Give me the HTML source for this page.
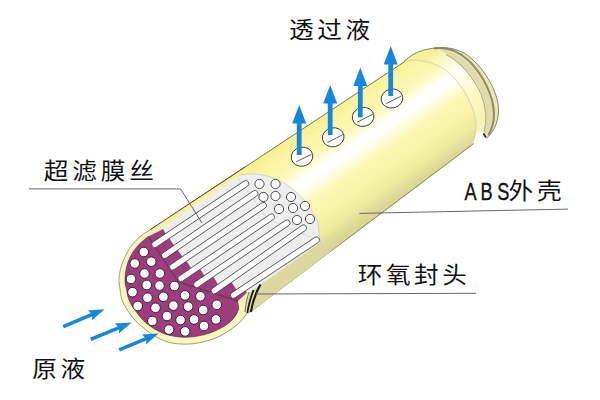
<!DOCTYPE html>
<html lang="zh"><head><meta charset="utf-8"><title>超滤膜组件结构</title>
<style>html,body{margin:0;padding:0;background:#fff}svg{display:block}text{font-family:"Liberation Sans","Noto Sans CJK SC",sans-serif}</style>
</head><body>
<svg width="600" height="400" viewBox="0 0 600 400">
<rect width="600" height="400" fill="#fff"/>
<defs>
<linearGradient id="body" gradientUnits="userSpaceOnUse" x1="300" y1="130.7" x2="366.5" y2="225">
 <stop offset="0" stop-color="#f8f090"/>
 <stop offset="0.10" stop-color="#faf4a4"/>
 <stop offset="0.24" stop-color="#fcf8b6"/>
 <stop offset="0.32" stop-color="#fffde4"/>
 <stop offset="0.36" stop-color="#ffffff"/>
 <stop offset="0.41" stop-color="#ffffff"/>
 <stop offset="0.47" stop-color="#fffde2"/>
 <stop offset="0.56" stop-color="#fcf8b4"/>
 <stop offset="0.72" stop-color="#f8f3a6"/>
 <stop offset="0.84" stop-color="#eeea9e"/>
 <stop offset="0.91" stop-color="#e2de9a"/>
 <stop offset="1" stop-color="#d6d28e"/>
</linearGradient>
<linearGradient id="cap" gradientUnits="userSpaceOnUse" x1="300" y1="130.7" x2="366.5" y2="225">
 <stop offset="0" stop-color="#f3ec8c"/>
 <stop offset="0.12" stop-color="#f7f1a0"/>
 <stop offset="0.28" stop-color="#fefcdc"/>
 <stop offset="0.38" stop-color="#fffef6"/>
 <stop offset="0.6" stop-color="#fcf9c4"/>
 <stop offset="0.85" stop-color="#f6f2b4"/>
 <stop offset="1" stop-color="#ffffff"/>
</linearGradient>
<linearGradient id="wall" gradientUnits="userSpaceOnUse" x1="250" y1="300" x2="345" y2="232">
 <stop offset="0" stop-color="#dcd8a0" stop-opacity="1"/>
 <stop offset="0.7" stop-color="#dcd8a0" stop-opacity="0.9"/>
 <stop offset="1" stop-color="#dcd8a0" stop-opacity="0"/>
</linearGradient>
</defs>
<path d="M404,61.5 C409,56.5 416,52 424,50 C438,46.5 452,46.5 464,53 C482,64 499.5,92 498.5,112 C497.5,125 492.5,133.5 486.5,138 L471,146.2 Z" fill="url(#cap)"/>
<path d="M471.3,146.2 L486.5,138 L485,131 L476,134 Z" fill="#ffffff" opacity="0.92"/>
<path d="M436,47.5 C446,46 456,49 464,53 C482,64 499.5,92 498.5,112 C497.5,125 492.5,133.5 486.5,138 L483,134 C487,124 487,108 482,94 C476,78 462,62 447,54 Z" fill="#ebe8b6"/>
<path d="M440,49.5 C452,50 462,57 470,65 C484,80 493,100 493,114 C493,123 491,129 488,134 L483,134 C487,124 487,108 482,94 C476,78 462,62 447,54 Z" fill="#dfdcaa"/>
<path d="M434,48.5 C447,46.5 458,51 468,60 C483,74 494,97 494,114 C494,123 491.5,130 488.5,135" fill="none" stroke="#8f8d68" stroke-width="2.1"/>
<path d="M446,54.5 C460,61 474,78 481,94 C486,107 487,121 484,132" fill="none" stroke="#b3b088" stroke-width="1.1"/>
<path d="M404,61.5 C409,56.5 416,52 424,50 C438,46.5 452,46.5 464,53 C482,64 499.5,92 498.5,112 C497.5,125 492.5,133.5 486.5,138" fill="none" stroke="#7d7b5a" stroke-width="0.9"/>
<path d="M486,137.5 L483.5,133.5" stroke="#222" stroke-width="1.6"/>
<path d="M150,229.8 L406,60.8 C418,58.5 436,62 448,72 C464,86 476,110 476,126 C476,134 474,140 471,146.2 L249,313.0 Z" fill="url(#body)"/>
<path d="M406,60.8 C418,58.5 436,62 448,72 C464,86 476,110 476,126 C476,134 474,140 471,146.2" fill="none" stroke="#d6d3a6" stroke-width="0.9"/>
<path d="M150,229.8 L405,61.4" stroke="#55533a" stroke-width="0.8"/>
<path d="M250,312.2 L474,143.3" stroke="#77754c" stroke-width="0.8"/>
<g transform="translate(302,156.7)"><ellipse rx="10.9" ry="9.5" transform="rotate(-12)" fill="#fff" stroke="#3a3a3a" stroke-width="0.9"/><path d="M-5.8,5.2 L9.6,-2.6" stroke="#3a3a3a" stroke-width="0.8"/></g>
<g transform="translate(333.2,137.3)"><ellipse rx="10.9" ry="9.5" transform="rotate(-12)" fill="#fff" stroke="#3a3a3a" stroke-width="0.9"/><path d="M-5.8,5.2 L9.6,-2.6" stroke="#3a3a3a" stroke-width="0.8"/></g>
<g transform="translate(363.1,116.9)"><ellipse rx="10.9" ry="9.5" transform="rotate(-12)" fill="#fff" stroke="#3a3a3a" stroke-width="0.9"/><path d="M-5.8,5.2 L9.6,-2.6" stroke="#3a3a3a" stroke-width="0.8"/></g>
<g transform="translate(392,98.5)"><ellipse rx="10.9" ry="9.5" transform="rotate(-12)" fill="#fff" stroke="#3a3a3a" stroke-width="0.9"/><path d="M-5.8,5.2 L9.6,-2.6" stroke="#3a3a3a" stroke-width="0.8"/></g>
<path d="M299.2,105 L306.2,123.5 L301.59999999999997,123.5 L301.59999999999997,155 L296.8,155 L296.8,123.5 L292.2,123.5 Z" fill="#1488dc"/>
<path d="M330.2,85 L337.2,103.5 L332.59999999999997,103.5 L332.59999999999997,135 L327.8,135 L327.8,103.5 L323.2,103.5 Z" fill="#1488dc"/>
<path d="M360.3,67.5 L367.3,86.0 L362.7,86.0 L362.7,117.3 L357.90000000000003,117.3 L357.90000000000003,86.0 L353.3,86.0 Z" fill="#1488dc"/>
<path d="M390.7,46 L397.7,64.5 L393.09999999999997,64.5 L393.09999999999997,96 L388.3,96 L388.3,64.5 L383.7,64.5 Z" fill="#1488dc"/>
<path d="M171.5,220 C169.5,221.0 163.2,224.2 159.5,226.0 C155.8,227.8 152.5,228.5 149.0,230.5 C145.5,232.5 141.8,235.0 138.5,238.0 C135.2,241.0 132.1,244.5 129.5,248.5 C126.9,252.5 124.4,258.0 122.8,262.0 C121.1,266.0 120.4,269.5 119.8,272.5 C119.1,275.5 119.0,277.6 119.0,280.0 C119.0,282.4 119.2,283.7 119.8,287.0 C120.2,290.3 120.6,296.0 122.0,300.0 C123.4,304.0 125.9,307.7 128.0,311.0 C130.1,314.3 132.8,317.7 134.8,320.0 C136.8,322.3 137.5,322.8 140.0,325.0 C142.5,327.2 146.7,330.7 150.0,333.0 C153.3,335.3 156.7,337.4 160.0,339.0 C163.3,340.6 166.7,341.8 170.0,342.6 C173.3,343.4 176.7,343.8 180.0,344.0 C183.3,344.2 186.7,344.2 190.0,344.0 C193.3,343.8 196.7,343.3 200.0,342.6 C203.3,341.9 206.7,341.1 210.0,340.0 C213.3,338.9 216.7,337.7 220.0,336.0 C223.3,334.3 226.7,332.3 230.0,330.0 C233.3,327.7 237.2,324.8 240.0,322.0 C242.8,319.2 245.3,315.8 247.0,313.0 C248.7,310.2 249.5,306.3 250.0,305.0 L250,297 L238,301 L178.5,282 L160,240 Z" fill="#f9f6be"/>
<path d="M171.5,220 C169.5,221.0 163.2,224.2 159.5,226.0 C155.8,227.8 152.5,228.5 149.0,230.5 C145.5,232.5 141.8,235.0 138.5,238.0 C135.2,241.0 132.1,244.5 129.5,248.5 C126.9,252.5 124.4,258.0 122.8,262.0 C121.1,266.0 120.4,269.5 119.8,272.5 C119.1,275.5 119.0,277.6 119.0,280.0 C119.0,282.4 119.2,283.7 119.8,287.0 C120.2,290.3 120.6,296.0 122.0,300.0 C123.4,304.0 125.9,307.7 128.0,311.0 C130.1,314.3 132.8,317.7 134.8,320.0 C136.8,322.3 137.5,322.8 140.0,325.0 C142.5,327.2 146.7,330.7 150.0,333.0 C153.3,335.3 156.7,337.4 160.0,339.0 C163.3,340.6 166.7,341.8 170.0,342.6 C173.3,343.4 176.7,343.8 180.0,344.0 C183.3,344.2 186.7,344.2 190.0,344.0 C193.3,343.8 196.7,343.3 200.0,342.6 C203.3,341.9 206.7,341.1 210.0,340.0 C213.3,338.9 216.7,337.7 220.0,336.0 C223.3,334.3 226.7,332.3 230.0,330.0 C233.3,327.7 237.2,324.8 240.0,322.0 C242.8,319.2 245.3,315.8 247.0,313.0 C248.7,310.2 249.5,306.3 250.0,305.0" fill="none" stroke="#77754f" stroke-width="0.7"/>
<path d="M148.25,236.5 C146.6,237.9 141.2,242.0 138.3,245.2 C135.4,248.4 132.9,251.9 131.0,255.5 C129.1,259.1 127.6,262.9 126.6,267.0 C125.6,271.1 125.1,276.5 125.0,280.0 C124.9,283.5 125.5,284.7 126.2,288.0 C126.9,291.3 127.6,296.4 129.0,300.0 C130.4,303.6 132.4,306.4 134.6,309.6 C136.8,312.8 139.4,316.3 142.0,319.0 C144.6,321.7 147.0,323.8 150.0,326.0 C153.0,328.2 156.7,330.4 160.0,332.0 C163.3,333.6 166.7,334.6 170.0,335.4 C173.3,336.2 176.7,336.7 180.0,337.0 C183.3,337.3 186.7,337.2 190.0,337.0 C193.3,336.8 196.7,336.3 200.0,335.6 C203.3,334.9 206.7,334.2 210.0,333.0 C213.3,331.8 216.7,330.4 220.0,328.6 C223.3,326.8 227.3,324.3 230.0,322.0 C232.7,319.7 234.5,317.5 236.0,315.0 C237.5,312.5 238.7,309.3 239.0,307.0 C239.3,304.7 238.2,302.0 238.0,301.0 L178.5,282 Z" fill="#9e3c7d" stroke="#4a2040" stroke-width="0.6"/>
<circle cx="143.75" cy="252" r="4.8" fill="#fff" stroke="#2a1426" stroke-width="0.9"/>
<circle cx="134.75" cy="263.5" r="4.8" fill="#fff" stroke="#2a1426" stroke-width="0.9"/>
<circle cx="151.25" cy="261.7" r="4.8" fill="#fff" stroke="#2a1426" stroke-width="0.9"/>
<circle cx="144.5" cy="273.5" r="4.8" fill="#fff" stroke="#2a1426" stroke-width="0.9"/>
<circle cx="159.8" cy="273.5" r="4.8" fill="#fff" stroke="#2a1426" stroke-width="0.9"/>
<circle cx="131" cy="279" r="4.8" fill="#fff" stroke="#2a1426" stroke-width="0.9"/>
<circle cx="146.75" cy="285" r="4.8" fill="#fff" stroke="#2a1426" stroke-width="0.9"/>
<circle cx="159.5" cy="285.6" r="4.8" fill="#fff" stroke="#2a1426" stroke-width="0.9"/>
<circle cx="174.5" cy="286" r="4.8" fill="#fff" stroke="#2a1426" stroke-width="0.9"/>
<circle cx="132.5" cy="292.2" r="4.8" fill="#fff" stroke="#2a1426" stroke-width="0.9"/>
<circle cx="147.5" cy="297.75" r="4.8" fill="#fff" stroke="#2a1426" stroke-width="0.9"/>
<circle cx="163.4" cy="296.8" r="4.8" fill="#fff" stroke="#2a1426" stroke-width="0.9"/>
<circle cx="185" cy="295.4" r="4.8" fill="#fff" stroke="#2a1426" stroke-width="0.9"/>
<circle cx="200.4" cy="296.3" r="4.8" fill="#fff" stroke="#2a1426" stroke-width="0.9"/>
<circle cx="137.75" cy="306" r="4.8" fill="#fff" stroke="#2a1426" stroke-width="0.9"/>
<circle cx="155.5" cy="307.8" r="4.8" fill="#fff" stroke="#2a1426" stroke-width="0.9"/>
<circle cx="173.4" cy="305.6" r="4.8" fill="#fff" stroke="#2a1426" stroke-width="0.9"/>
<circle cx="188.2" cy="306.6" r="4.8" fill="#fff" stroke="#2a1426" stroke-width="0.9"/>
<circle cx="167" cy="316" r="4.8" fill="#fff" stroke="#2a1426" stroke-width="0.9"/>
<circle cx="152.3" cy="321" r="4.8" fill="#fff" stroke="#2a1426" stroke-width="0.9"/>
<circle cx="180.5" cy="320" r="4.8" fill="#fff" stroke="#2a1426" stroke-width="0.9"/>
<circle cx="194.1" cy="319.5" r="4.8" fill="#fff" stroke="#2a1426" stroke-width="0.9"/>
<circle cx="169" cy="329.6" r="4.8" fill="#fff" stroke="#2a1426" stroke-width="0.9"/>
<circle cx="185.1" cy="331.4" r="4.8" fill="#fff" stroke="#2a1426" stroke-width="0.9"/>
<circle cx="216.75" cy="304.75" r="4.8" fill="#fff" stroke="#2a1426" stroke-width="0.9"/>
<circle cx="203.2" cy="310" r="4.8" fill="#fff" stroke="#2a1426" stroke-width="0.9"/>
<circle cx="216" cy="319.4" r="4.8" fill="#fff" stroke="#2a1426" stroke-width="0.9"/>
<circle cx="204" cy="326" r="4.8" fill="#fff" stroke="#2a1426" stroke-width="0.9"/>
<path d="M148.2,236.5 L160,222 L237,176 C262,168 300,182 318,222 L320,243 L256,288 L252,298 L238,301 L178.5,282 Z" fill="#eeeeee"/>
<path d="M237,176 C262,168 300,182 318,222 L320,243" fill="none" stroke="#c4c4c4" stroke-width="0.7"/>
<path d="M238,178 L268,219 L320,241" fill="none" stroke="#cccccc" stroke-width="0.6"/>
<path d="M256,288 L320,243 L330,251.9 L249,313.0 L244,314 L238,301 Z" fill="url(#body)"/>
<path d="M256,288 L320,243 L345,226 L345,240.6 L249,313.0 L244,314 L238,301 Z" fill="url(#wall)"/>
<path d="M148.2,236.5 L163.2,229.0 L167.8,237.9 L168.9,237.4 L176.5,249.2 L177.5,249.4 L185.1,261.2 L186.2,260.6 L193.8,272.4 L200.2,269.1 L207.8,280.9 L212.7,276.1 L220.3,287.9 L231.2,281.6 L238.8,293.4 L242.9,286.6 L248.0,294.6 L238.0,301.0 L178.5,282.0 Z" fill="#9e3c7d"/>
<path d="M148.2,236.5 L178.5,282 L238,301" fill="none" stroke="#3a2035" stroke-width="0.7"/>
<rect x="-3.05" y="-3.05" width="115.6" height="6.1" rx="3.05" transform="translate(154.8,244.5) rotate(-33.79)" fill="#fff" stroke="#444" stroke-width="0.8"/>
<rect x="-3.05" y="-3.05" width="115.8" height="6.1" rx="3.05" transform="translate(164.5,255.5) rotate(-34.41)" fill="#fff" stroke="#444" stroke-width="0.8"/>
<rect x="-3.05" y="-3.05" width="115.9" height="6.1" rx="3.05" transform="translate(172.5,267.0) rotate(-34.05)" fill="#fff" stroke="#444" stroke-width="0.8"/>
<rect x="-3.05" y="-3.05" width="115.5" height="6.1" rx="3.05" transform="translate(181.0,278.5) rotate(-34.20)" fill="#fff" stroke="#444" stroke-width="0.8"/>
<rect x="-3.05" y="-3.05" width="115.4" height="6.1" rx="3.05" transform="translate(196.7,284.5) rotate(-34.26)" fill="#fff" stroke="#444" stroke-width="0.8"/>
<rect x="-3.05" y="-3.05" width="115.3" height="6.1" rx="3.05" transform="translate(214.2,290.8) rotate(-35.12)" fill="#fff" stroke="#444" stroke-width="0.8"/>
<rect x="-3.05" y="-3.05" width="105.8" height="6.1" rx="3.05" transform="translate(233.5,295.2) rotate(-33.63)" fill="#fff" stroke="#444" stroke-width="0.8"/>
<circle cx="259.5" cy="184" r="4.6" fill="#fff" stroke="#3a3a3a" stroke-width="0.9"/>
<circle cx="275.5" cy="184" r="4.6" fill="#fff" stroke="#3a3a3a" stroke-width="0.9"/>
<circle cx="263.5" cy="197" r="4.6" fill="#fff" stroke="#3a3a3a" stroke-width="0.9"/>
<circle cx="275.5" cy="196" r="4.6" fill="#fff" stroke="#3a3a3a" stroke-width="0.9"/>
<circle cx="291" cy="197" r="4.6" fill="#fff" stroke="#3a3a3a" stroke-width="0.9"/>
<circle cx="279" cy="209" r="4.6" fill="#fff" stroke="#3a3a3a" stroke-width="0.9"/>
<circle cx="293" cy="208" r="4.6" fill="#fff" stroke="#3a3a3a" stroke-width="0.9"/>
<circle cx="305" cy="206" r="4.6" fill="#fff" stroke="#3a3a3a" stroke-width="0.9"/>
<circle cx="297" cy="220" r="4.6" fill="#fff" stroke="#3a3a3a" stroke-width="0.9"/>
<circle cx="310" cy="219" r="4.6" fill="#fff" stroke="#3a3a3a" stroke-width="0.9"/>
<path d="M150,230.2 L242,169.4 L245,171.6 L151,234.5 Z" fill="#f8f394"/>
<path d="M150,229.8 L245,167.0" stroke="#44422c" stroke-width="0.9"/>
<path d="M238,301 L248,291.5 L250,292 C247.5,299 246,306 245.5,313 L241,320 Z" fill="#f6f3b8"/>
<path d="M249,292 C247,298 245.5,305 245,312" fill="none" stroke="#333" stroke-width="0.7"/>
<path d="M253.5,290 C250.5,298 248.5,305 247.4,313" fill="none" stroke="#1a1a1a" stroke-width="1.8"/>
<path d="M260.5,284.5 C256,292 253,300 250.8,312" fill="none" stroke="#1a1a1a" stroke-width="2.1"/>
<path transform="translate(63.25,326.6) rotate(-22.87)" d="M0,-1.8 L30.8,-1.8 L28.8,-5.4 L44.8,0 L28.8,5.4 L30.8,1.8 L0,1.8 Z" fill="#1488dc"/>
<path transform="translate(90.75,339.4) rotate(-22.59)" d="M0,-1.8 L30.2,-1.8 L28.2,-5.4 L44.2,0 L28.2,5.4 L30.2,1.8 L0,1.8 Z" fill="#1488dc"/>
<path transform="translate(119.2,349.9) rotate(-22.72)" d="M0,-1.8 L28.7,-1.8 L26.7,-5.4 L42.7,0 L26.7,5.4 L28.7,1.8 L0,1.8 Z" fill="#1488dc"/>
<path d="M29,188.9 L180.6,188.9 L202,223" fill="none" stroke="#666" stroke-width="1"/>
<path d="M568,209.1 L359.4,213.4" fill="none" stroke="#666" stroke-width="1"/>
<path d="M256,294 L476,293.3" fill="none" stroke="#666" stroke-width="1"/>
<text transform="translate(43.8,178.6) scale(1.1,1)" x="0.00 25.91 51.82 77.73" y="0" font-size="22.4" fill="#111">超滤膜丝</text>
<text transform="translate(289,37.5) scale(1.1,1)" x="0.00 25.73 51.45" y="0" font-size="22.4" fill="#111">透过液</text>
<text transform="translate(357.7,282.6) scale(1.1,1)" x="0.00 25.64 51.27 76.91" y="0" font-size="22.4" fill="#111">环氧封头</text>
<text transform="translate(32.3,376.6) scale(1.1,1)" x="0.00 25.73" y="0" font-size="22.4" fill="#111">原液</text>
<text transform="translate(0,200) scale(0.78,1)" x="595.5 616.2 637.5" y="0" font-size="23.3" fill="#111" stroke="#111" stroke-width="0.35">ABS</text>
<text transform="translate(508.5,199.3) scale(1.1,1)" x="0.00 26.00" y="0" font-size="22.4" fill="#111">外壳</text>
</svg>
</body></html>
